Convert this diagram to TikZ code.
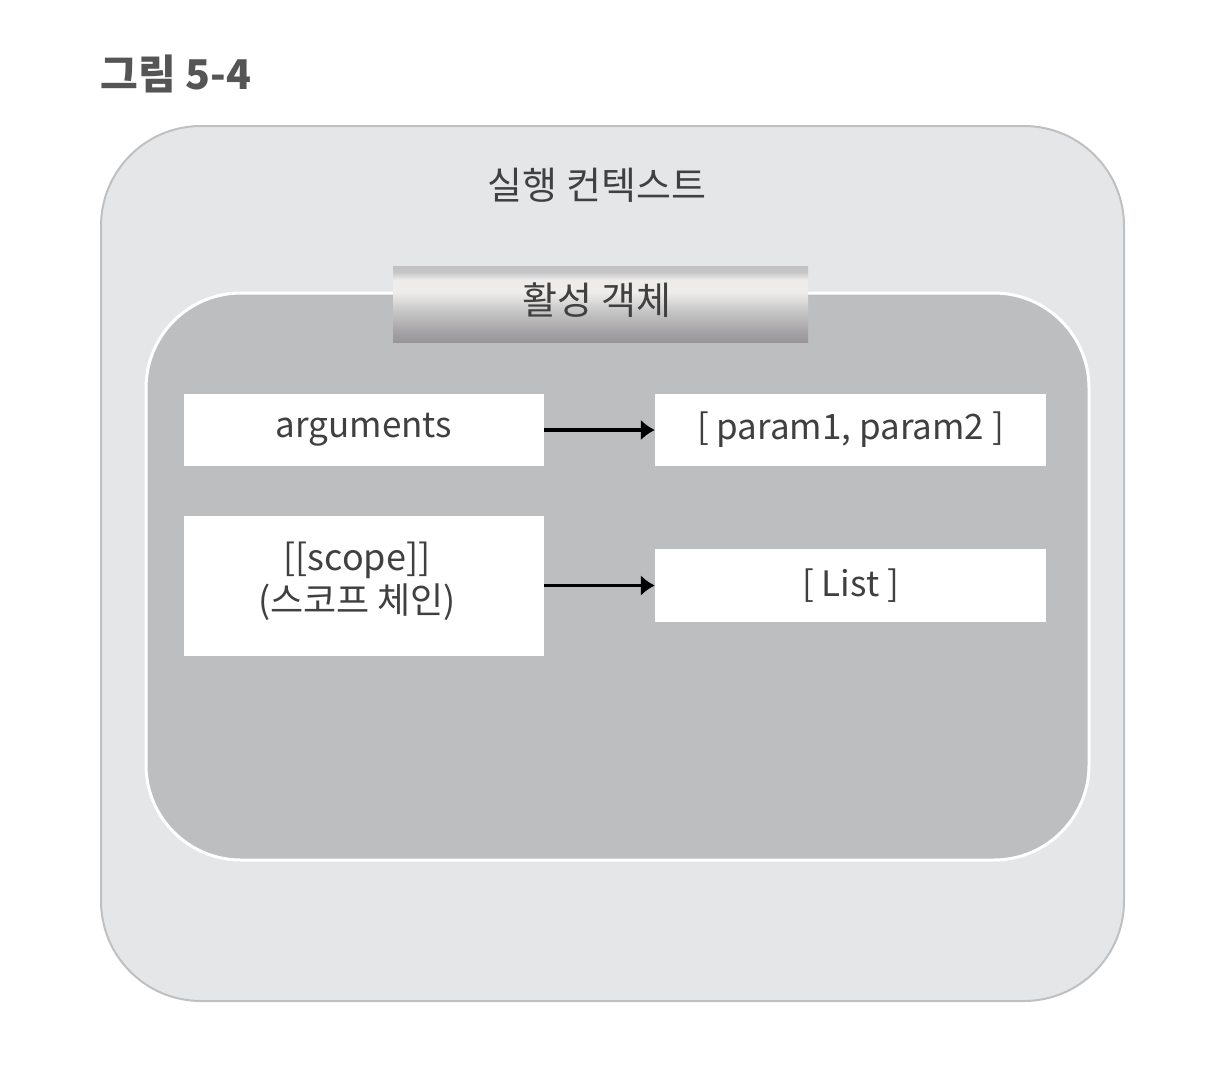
\documentclass[tikz,border=0pt]{standalone}
\usepackage{fontspec}
\setmainfont{Noto Sans CJK KR}
\usetikzlibrary{arrows.meta}
\definecolor{outerfill}{HTML}{E5E6E8}
\definecolor{outerline}{HTML}{BFC0C2}
\definecolor{innerfill}{HTML}{BDBEC0}
\definecolor{txt}{HTML}{404040}
\definecolor{titlecol}{HTML}{555555}
\definecolor{tb0}{HTML}{979597}
\definecolor{tb1}{HTML}{A4A2A4}
\definecolor{tb2}{HTML}{C5C4C4}
\definecolor{tb3}{HTML}{EEEDEB}
\definecolor{tb4}{HTML}{EDECEA}
\definecolor{tb5}{HTML}{C6C6C8}
\definecolor{tb6}{HTML}{C2C2C4}
% path box maps to 25bp..75bp; 76px tall -> 50bp
\pgfdeclareverticalshading{tabshade}{100bp}{%
  color(0bp)=(tb0); color(25bp)=(tb0); color(31.6bp)=(tb1); color(44.7bp)=(tb2);
  color(57.9bp)=(tb3); color(65.8bp)=(tb4); color(71.1bp)=(tb5); color(75bp)=(tb6);
  color(100bp)=(tb6)}
\tikzset{
  kor/.style={text=txt, font=\fontsize{38}{44}\selectfont},
  lat/.style={text=txt, font=\fontsize{35}{44}\selectfont},
  container/.style={draw=outerline, line width=2pt, fill=outerfill, rounded corners=100pt, inner sep=0pt},
  panel/.style={draw=white, line width=3pt, fill=innerfill, rounded corners=95pt, inner sep=0pt},
  tabbox/.style={shading=tabshade, inner sep=0pt, minimum width=415pt, minimum height=76pt, kor},
  whitebox/.style={fill=white, inner sep=0pt, align=center},
  link/.style={line width=3.5pt, -{Latex[length=14pt,width=21pt]}}
}
\begin{document}
\begin{tikzpicture}[x=1pt,y=-1pt]
\useasboundingbox (0,0) rectangle (1212,1074);
\node[anchor=west, text=titlecol, font=\fontsize{41}{46}\selectfont\bfseries] (title) at (97,74) {그림 5-4};
\node[container, minimum width=1023pt, minimum height=875pt] (ctx) at (612.5,563.5) {};
\node[kor] (ctxlabel) at (597,185) {실행 컨텍스트};
\node[panel, minimum width=943pt, minimum height=567pt] (act) at (617.5,576.5) {};
\node[tabbox] (tab) at (600.5,304) {};
\node[kor] (tablabel) at (597,300) {활성 객체};
\node[whitebox, lat, minimum width=360pt, minimum height=72pt] (args) at (364,430) {arguments};
\node[whitebox, lat, minimum width=391pt, minimum height=72pt] (params) at (850.5,430) {[ param1, param2 ]};
\node[whitebox, minimum width=360pt, minimum height=140pt] (scope) at (364,586) {};
\node[align=center, text=txt, font=\fontsize{36}{43}\selectfont] (scopelabel) at (357,581) {[[scope]]\\(스코프 체인)};
\node[whitebox, lat, minimum width=391pt, minimum height=73pt] (list) at (850.5,585.5) {[ List ]};
\draw[link] (args.east) -- (params.west);
\draw[link] (scope.east |- list.west) -- (list.west);
\end{tikzpicture}
\end{document}
